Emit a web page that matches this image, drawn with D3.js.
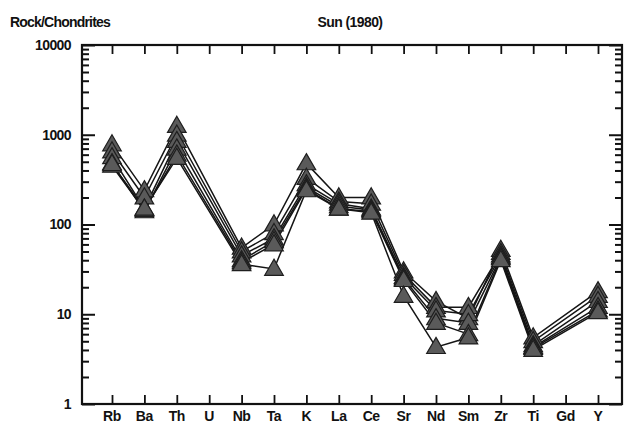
<!DOCTYPE html>
<html><head><meta charset="utf-8">
<script src="https://cdn.jsdelivr.net/npm/d3@7"></script>
<style>body{margin:0;background:#fff}svg{display:block}text{font-family:"Liberation Sans",Arial,sans-serif;fill:#111}</style>
</head><body><svg id="c" width="624" height="423"></svg>
<script>
const elements = ["Rb","Ba","Th","U","Nb","Ta","K","La","Ce","Sr","Nd","Sm","Zr","Ti","Gd","Y"];
const yTickValues = [1,10,100,1000,10000];
const yTickLabels = ["1","10","100","1000","10000"];
// null = not analysed (U, Gd)
const s1 = [780,240,1250,null,55,100,480,200,200,30,14,9,52,5.5,null,18];
const s2 = [650,200,1000,null,50,80,330,180,170,28,12,12,48,5,null,16];
const s3 = [560,150,850,null,45,70,280,170,150,26,11,10,45,4.5,null,14];
const s4 = [480,140,700,null,40,65,260,160,145,25,9,8,43,4.3,null,12];
const s5 = [450,145,600,null,38,60,250,150,140,24,8,6,42,4.2,null,11];
const s6 = [470,150,550,null,36,32,240,150,135,16,4.3,5.5,40,4,null,10.5];
const series = [s1,s2,s3,s4,s5,s6];

const svg = d3.select("#c");
const L=82, R=622, T=45, B=404;
const x = d3.scalePoint().domain(elements).range([112,598]);
const y = d3.scaleLog().domain([1,10000]).range([B,T]);

const minor=[];
for(let d=1; d<10000; d*=10) for(let k=2;k<10;k++) minor.push(d*k);

const g = svg.append("g");
const line = d3.line().x(d=>x(d.e)).y(d=>y(d.v));
series.forEach(s=>{
  const pts = elements.map((e,i)=>({e,v:s[i]})).filter(d=>d.v!=null);
  g.append("path").attr("d",line(pts)).attr("fill","none").attr("stroke","#151515").attr("stroke-width",1.5);
});
const tri = d3.symbol().type(d3.symbolTriangle).size(150);
series.forEach(s=>{
  elements.forEach((e,i)=>{
    if(s[i]==null) return;
    g.append("path").attr("d",tri()).attr("transform",`translate(${x(e)},${y(s[i])+1})`)
      .attr("fill","#5a5a5a").attr("stroke","#1e1e1e").attr("stroke-width",1.2);
  });
});

const ax = svg.append("g").attr("stroke","#111").attr("fill","none");
ax.append("rect").attr("x",L).attr("y",T).attr("width",R-L).attr("height",B-T).attr("stroke-width",2.2);
const leftMaj = d3.axisRight(y).tickValues(yTickValues).tickSize(13).tickFormat("");
const leftMin = d3.axisRight(y).tickValues(minor).tickSize(7).tickFormat("");
const rightMaj = d3.axisLeft(y).tickValues(yTickValues).tickSize(13).tickFormat("");
const rightMin = d3.axisLeft(y).tickValues(minor).tickSize(7).tickFormat("");
[[leftMaj,L],[leftMin,L],[rightMaj,R],[rightMin,R]].forEach(([a,px])=>{
  const gg = svg.append("g").attr("transform",`translate(${px},0)`).call(a);
  gg.select(".domain").remove();
  gg.selectAll("line").attr("stroke","#111").attr("stroke-width",2);
});
const botAxis = d3.axisTop(x).tickSize(9).tickFormat("");
const topAxis = d3.axisBottom(x).tickSize(9).tickFormat("");
[[botAxis,B],[topAxis,T]].forEach(([a,py])=>{
  const gg = svg.append("g").attr("transform",`translate(0,${py})`).call(a);
  gg.select(".domain").remove();
  gg.selectAll("line").attr("stroke","#111").attr("stroke-width",1.8);
});
svg.append("g").selectAll("text").data(yTickValues).join("text")
  .attr("x",71).attr("y",d=>y(d)).attr("dy","0.35em").attr("text-anchor","end")
  .attr("font-size",14).attr("font-weight","bold").attr("letter-spacing",-0.6)
  .text((d,i)=>yTickLabels[i]);
svg.append("g").selectAll("text").data(elements).join("text")
  .attr("x",d=>x(d)).attr("y",421).attr("text-anchor","middle")
  .attr("font-size",14).attr("font-weight","bold").attr("letter-spacing",-0.4)
  .text(d=>d);
svg.append("text").attr("x",10).attr("y",27).attr("font-size",14).attr("font-weight","bold").attr("letter-spacing",-0.8).text("Rock/Chondrites");
svg.append("text").attr("x",350).attr("y",27).attr("text-anchor","middle").attr("font-size",14).attr("font-weight","bold").attr("letter-spacing",-0.6).text("Sun (1980)");
</script></body></html>
